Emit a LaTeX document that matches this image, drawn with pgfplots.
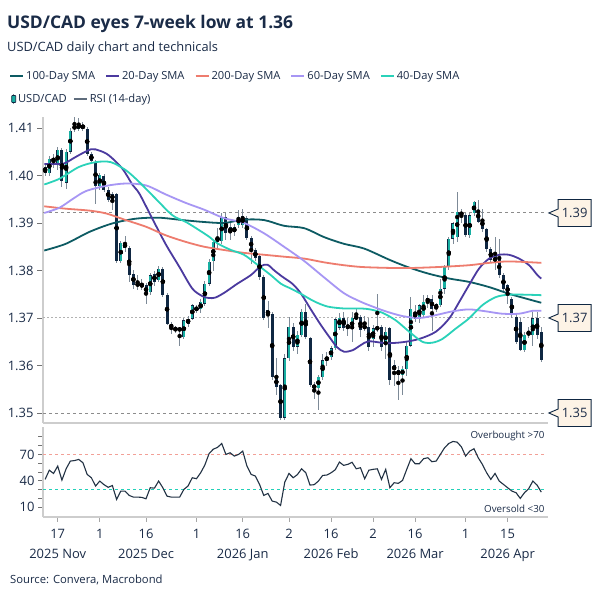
\documentclass[border=0pt]{standalone}
\usepackage{pgfplots}
\usepackage{pgfplotstable}
\pgfplotsset{compat=1.18}
\usepackage{fontspec}
\setmainfont{Open Sans}

\definecolor{navy}{HTML}{0F2742}
\definecolor{cteal}{HTML}{18AFA2}
\definecolor{wickc}{HTML}{7D8A97}
\definecolor{smaA}{HTML}{0D5B63}
\definecolor{smaB}{HTML}{4B3A9F}
\definecolor{smaC}{HTML}{EE7C6E}
\definecolor{smaD}{HTML}{A796F4}
\definecolor{smaE}{HTML}{2AD2B9}
\definecolor{txt}{HTML}{1A2B47}
\definecolor{axg}{HTML}{CDCDCD}
\definecolor{boxf}{HTML}{FDF3E6}
\definecolor{rsic}{HTML}{223244}
\definecolor{rsileg}{HTML}{5E6C7C}
\definecolor{obc}{HTML}{F2A097}
\definecolor{osc}{HTML}{22D0B8}

\pgfplotstableread{
i o h l c
-3 1.4018 1.4022 1.3998 1.4006
-2 1.4005 1.4040 1.3998 1.4035
-1 1.4030 1.4045 1.4015 1.4036
0 1.4021 1.4060 1.4012 1.4054
1 1.4054 1.4058 1.3975 1.3988
2 1.3985 1.4056 1.3972 1.4050
3 1.4050 1.4100 1.4045 1.4094
4 1.4098 1.4124 1.4092 1.4104
5 1.4098 1.4120 1.4094 1.4108
6 1.4107 1.4112 1.4093 1.4098
7 1.4098 1.4102 1.4040 1.4045
8 1.4045 1.4050 1.4026 1.4030
9 1.4026 1.4032 1.3939 1.3977
10 1.3977 1.4005 1.3970 1.4001
11 1.3998 1.4004 1.3965 1.3970
12 1.3970 1.3975 1.3945 1.3949
13 1.3960 1.3965 1.3928 1.3949
14 1.3960 1.3963 1.3815 1.3819
15 1.3819 1.3862 1.3815 1.3858
16 1.3858 1.3872 1.3840 1.3847
17 1.3847 1.3852 1.3775 1.3790
18 1.3793 1.3800 1.3762 1.3770
19 1.3772 1.3790 1.3760 1.3769
20 1.3770 1.3782 1.3758 1.3767
21 1.3769 1.3773 1.3730 1.3751
22 1.3755 1.3795 1.3748 1.3790
23 1.3793 1.3800 1.3768 1.3776
24 1.3779 1.3810 1.3775 1.3804
25 1.3804 1.3808 1.3745 1.3749
26 1.3749 1.3752 1.3685 1.3688
27 1.3688 1.3692 1.3666 1.3678
28 1.3680 1.3684 1.3668 1.3674
29 1.3679 1.3682 1.3642 1.3673
30 1.3660 1.3700 1.3655 1.3695
31 1.3688 1.3705 1.3680 1.3699
32 1.3699 1.3730 1.3695 1.3727
33 1.3723 1.3728 1.3710 1.3716
34 1.3718 1.3740 1.3710 1.3734
35 1.3730 1.3778 1.3725 1.3772
36 1.3772 1.3825 1.3768 1.3818
37 1.3819 1.3865 1.3800 1.3861
38 1.3861 1.3890 1.3845 1.3870
39 1.3862 1.3920 1.3855 1.3913
40 1.3913 1.3920 1.3865 1.3878
41 1.3892 1.3900 1.3865 1.3878
42 1.3880 1.3898 1.3872 1.3892
43 1.3895 1.3927 1.3890 1.3913
44 1.3896 1.3929 1.3890 1.3914
45 1.3910 1.3915 1.3865 1.3868
46 1.3868 1.3872 1.3814 1.3843
47 1.3843 1.3848 1.3820 1.3826
48 1.3830 1.3835 1.3780 1.3787
49 1.3787 1.3790 1.3695 1.3699
50 1.3717 1.3735 1.3680 1.3706
51 1.3709 1.3712 1.3570 1.3576
52 1.3576 1.3615 1.3537 1.3555
53 1.3559 1.3562 1.3485 1.3490
54 1.3490 1.3625 1.3486 1.3615
55 1.3615 1.3702 1.3610 1.3682
56 1.3682 1.3690 1.3630 1.3640
57 1.3640 1.3672 1.3625 1.3664
58 1.3664 1.3720 1.3660 1.3713
59 1.3713 1.3730 1.3655 1.3661
60 1.3657 1.3660 1.3555 1.3559
61 1.3559 1.3565 1.3530 1.3552
62 1.3552 1.3580 1.3506 1.3576
63 1.3576 1.3625 1.3570 1.3611
64 1.3611 1.3628 1.3600 1.3618
65 1.3618 1.3640 1.3612 1.3636
66 1.3636 1.3700 1.3632 1.3697
67 1.3680 1.3710 1.3675 1.3700
68 1.3700 1.3713 1.3672 1.3678
69 1.3685 1.3700 1.3662 1.3679
70 1.3676 1.3712 1.3649 1.3700
71 1.3700 1.3720 1.3695 1.3702
72 1.3702 1.3706 1.3660 1.3674
73 1.3680 1.3705 1.3672 1.3682
74 1.3682 1.3700 1.3630 1.3639
75 1.3656 1.3685 1.3640 1.3678
76 1.3680 1.3751 1.3670 1.3677
77 1.3681 1.3685 1.3630 1.3639
78 1.3646 1.3680 1.3614 1.3671
79 1.3678 1.3681 1.3560 1.3569
80 1.3600 1.3611 1.3558 1.3590
81 1.3590 1.3600 1.3527 1.3580
82 1.3579 1.3600 1.3537 1.3593
83 1.3593 1.3649 1.3579 1.3642
84 1.3642 1.3744 1.3639 1.3719
85 1.3713 1.3727 1.3692 1.3699
86 1.3699 1.3730 1.3690 1.3727
87 1.3706 1.3748 1.3700 1.3734
88 1.3734 1.3748 1.3720 1.3741
89 1.3739 1.3748 1.3672 1.3720
90 1.3720 1.3731 1.3713 1.3729
91 1.3727 1.3783 1.3723 1.3762
92 1.3762 1.3811 1.3751 1.3808
93 1.3808 1.3870 1.3800 1.3867
94 1.3867 1.3902 1.3856 1.3899
95 1.3870 1.3965 1.3860 1.3923
96 1.3923 1.3930 1.3900 1.3916
97 1.3916 1.3920 1.3870 1.3874
98 1.3874 1.3920 1.3869 1.3916
99 1.3920 1.3947 1.3915 1.3944
100 1.3927 1.3948 1.3900 1.3902
101 1.3909 1.3930 1.3880 1.3888
102 1.3888 1.3890 1.3840 1.3846
103 1.3846 1.3850 1.3815 1.3821
104 1.3815 1.3870 1.3800 1.3832
105 1.3825 1.3867 1.3785 1.3790
106 1.3790 1.3795 1.3755 1.3762
107 1.3769 1.3772 1.3730 1.3751
108 1.3741 1.3745 1.3700 1.3706
109 1.3703 1.3710 1.3645 1.3650
110 1.3692 1.3700 1.3630 1.3633
111 1.3633 1.3670 1.3628 1.3664
112 1.3664 1.3680 1.3658 1.3671
113 1.3664 1.3713 1.3640 1.3699
114 1.3699 1.3713 1.3655 1.3664
115 1.3671 1.3680 1.3607 1.3612
}\candles

\pgfplotstableread{
i r
-3 41.5
-2 52
-1 48.3
0 56.7
1 40.7
2 53.6
3 62.4
4 63
5 64.3
6 60.5
7 47.2
8 43.4
9 33.9
10 39.6
11 35.5
12 32.5
13 34.5
14 18.7
15 28.2
16 28.2
17 23.2
18 21.3
19 21.3
20 21.0
21 19.4
22 32
23 31.5
24 39.6
25 32
26 22.4
27 21.3
28 21.3
29 21.3
30 30.1
31 34
32 43.4
33 42.3
34 49.1
35 58
36 71
37 76
38 78
39 82.5
40 70
41 71.9
42 68.1
43 70
44 73.8
45 56.7
46 47.2
47 45.3
48 35.8
49 23.2
50 25.5
51 16.8
52 15.6
53 11.8
54 38.4
55 48.3
56 43.4
57 47
58 53.6
59 49.1
60 35
61 35.5
62 39.6
63 46
64 46.5
65 49
66 52.5
67 61.3
68 57.5
69 58.7
70 61
71 53.6
72 54.8
73 42.3
74 52
75 53
76 53.6
77 41.5
78 52.9
79 32
80 37.7
81 37
82 40.3
83 52.9
84 65.1
85 59.4
86 59.4
87 65.1
88 66.2
89 61.7
90 62.4
91 70
92 77.6
93 82.5
94 84.8
95 84
96 78.7
97 68.1
98 73.8
99 76.5
100 66.2
101 58.6
102 49.1
103 41.5
104 48.3
105 39.6
106 35.8
107 32
108 28.2
109 26.3
110 19.8
111 26.3
112 30.9
113 39.6
114 35
115 27
}\rsi

\begin{document}
\begin{tikzpicture}[x=1bp,y=1bp]
\useasboundingbox (0,0) rectangle (601,601);
\fill[white] (0,0) rectangle (601,601);

\node[anchor=base west, inner sep=0, text=txt, font=\bfseries\fontsize{17.5}{20}\selectfont] at (7,572.7) {USD/CAD eyes 7-week low at 1.36};
\node[anchor=base west, inner sep=0, text=txt, font=\fontsize{12.9}{15}\selectfont] at (7,549.5) {USD/CAD daily chart and technicals};
\node[anchor=base west, inner sep=0, text=txt, font=\fontsize{11.3}{13}\selectfont] at (10,17) {Source: Convera, Macrobond};

% ---------- main price panel ----------
\begin{axis}[
  at={(43bp,178bp)}, anchor=south west,
  width=505bp, height=306bp, scale only axis,
  xmin=-3.5, xmax=116.6, ymin=1.3479, ymax=1.4123,
  axis x line*=bottom, axis y line*=left,
  axis line style={axg, line width=1.6bp, -},
  xtick=\empty,
  ytick={1.35,1.36,1.37,1.38,1.39,1.40,1.41},
  yticklabels={1.35,1.36,1.37,1.38,1.39,1.40,1.41},
  yticklabel style={font=\fontsize{13}{15}\selectfont, text=txt},
  ytick style={draw=black!55, line width=0.8bp},
  tick align=outside, major tick length=6bp,
  clip=false,
  legend columns=5,
  legend style={at={(-0.0673,1.134)}, anchor=west, draw=none, fill=none, inner sep=0pt,
    font=\fontsize{11.2}{13}\selectfont, text=txt,
    nodes={inner xsep=2bp, inner ysep=1bp},
    /tikz/every even column/.append style={column sep=8bp}},
  legend image code/.code={\draw[#1, line width=2bp] (0bp,0bp) -- (13bp,0bp);},
]
% reference levels
\addplot[forget plot, black!45, line width=1bp, dash pattern=on 3bp off 3bp] coordinates {(-3.5,1.3921) (116.3,1.3921)};
\addplot[forget plot, black!30, line width=1bp, dash pattern=on 1.5bp off 2.5bp] coordinates {(-3.5,1.37) (116.3,1.37)};
\addplot[forget plot, black!45, line width=1bp, dash pattern=on 3bp off 3bp] coordinates {(-3.5,1.35) (116.3,1.35)};

% wicks
\addplot[forget plot, only marks, mark=none,
  error bars/.cd, y dir=both, y explicit, error mark=none,
  error bar style={wickc, line width=0.9bp}]
  table[x=i, y expr={(\thisrow{h}+\thisrow{l})/2}, y error expr={(\thisrow{h}-\thisrow{l})/2}] {\candles};
% bodies (outline / bearish)
\addplot[forget plot, only marks, mark=none,
  error bars/.cd, y dir=both, y explicit, error mark=none,
  error bar style={navy, line width=3bp}]
  table[x=i, y expr={(\thisrow{o}+\thisrow{c})/2}, y error expr={max(abs(\thisrow{o}-\thisrow{c})/2,0.00012)}] {\candles};
% bullish fill
\addplot[forget plot, only marks, mark=none,
  error bars/.cd, y dir=both, y explicit, error mark=none,
  error bar style={cteal, line width=2.2bp}]
  table[x=i, y expr={(\thisrow{o}+\thisrow{c})/2}, y error expr={max((\thisrow{c}-\thisrow{o})/2-0.00007,0)}] {\candles};

% moving averages
\addplot[smaA, line width=1.8bp, smooth] coordinates {(-3.2,1.3842) (1.9,1.3856) (7.5,1.3881) (13,1.3899) (18.6,1.3909) (24.1,1.3911) (29.7,1.3906) (34.8,1.3902) (39.6,1.3900) (44.3,1.3907) (49.1,1.3906) (53.8,1.3894) (58.6,1.3889) (63.4,1.3870) (68.1,1.3856) (72.9,1.3846) (79,1.3822) (83.6,1.3806) (88.3,1.3793) (93.1,1.3783) (97.8,1.3776) (102.6,1.3765) (107.3,1.3751) (111.3,1.3741) (115,1.3732)};
\addlegendentry{100-Day SMA}
\addplot[smaB, line width=1.8bp, smooth] coordinates {(-3.2,1.4024) (-0.7,1.4024) (1.5,1.4025) (4.5,1.4040) (7.9,1.4055) (10,1.4052) (12.2,1.4042) (15.4,1.4014) (17.8,1.3980) (19.4,1.3962) (22.5,1.3909) (25.7,1.3855) (28.9,1.3808) (32,1.3762) (34.4,1.3746) (36,1.3742) (37.5,1.3743) (39.6,1.3753) (42.7,1.3772) (45.9,1.3790) (48.3,1.3809) (49.9,1.3812) (51.5,1.3800) (53.4,1.3787) (55.8,1.3772) (57.8,1.3752) (60.2,1.3718) (62.6,1.3685) (65,1.3655) (66.5,1.3638) (68.1,1.3629) (70.1,1.3632) (72.1,1.3643) (74,1.3651) (78,1.3647) (82,1.3649) (86,1.3656) (89.9,1.3671) (93.1,1.3699) (95.5,1.3734) (97.8,1.3769) (100.2,1.3804) (102.6,1.3825) (105,1.3833) (107.3,1.3833) (109.7,1.3825) (112.1,1.3811) (114.1,1.3790) (115,1.3783)};
\addlegendentry{20-Day SMA}
\addplot[smaC, line width=1.8bp, smooth] coordinates {(-3.2,1.3935) (1.9,1.3930) (7.5,1.3926) (11.5,1.3920) (16.2,1.3906) (21,1.3892) (25.7,1.3874) (30.5,1.3860) (34.8,1.3850) (39.6,1.3843) (44.3,1.3837) (49.1,1.3833) (53.8,1.3829) (58.6,1.3825) (63.4,1.3817) (68.1,1.3811) (72.9,1.3807) (82,1.3805) (89.9,1.3807) (97.8,1.3811) (102.6,1.3816) (107.3,1.3819) (115,1.3816)};
\addlegendentry{200-Day SMA}
\addplot[smaD, line width=1.8bp, smooth] coordinates {(-3.2,1.3921) (0.4,1.3932) (3.5,1.3950) (6.7,1.3967) (11.5,1.3978) (16.2,1.3983) (21,1.3979) (25.7,1.3960) (30.5,1.3942) (34.8,1.3928) (39.6,1.3910) (44.3,1.3900) (49.1,1.3878) (53.8,1.3850) (58.6,1.3820) (63.4,1.3785) (68.1,1.3752) (72.1,1.3734) (75.2,1.3723) (78,1.3714) (82,1.3704) (86,1.3700) (89.9,1.3706) (93.9,1.3714) (97.8,1.3718) (101.8,1.3714) (105.7,1.3709) (109.7,1.3709) (112.9,1.3715) (115,1.3715)};
\addlegendentry{60-Day SMA}
\addplot[smaE, line width=1.8bp, smooth] coordinates {(-3.2,1.3981) (0.4,1.3993) (5.1,1.4018) (9.1,1.4028) (12.6,1.4028) (16.2,1.4011) (19.4,1.3986) (23.3,1.3951) (27.3,1.3916) (30.5,1.3902) (33.6,1.3885) (36,1.3871) (38,1.3857) (41.2,1.3843) (44.3,1.3833) (47.5,1.3812) (50.7,1.3790) (53.1,1.3772) (55.4,1.3762) (57.8,1.3751) (61,1.3735) (64.2,1.3724) (68.1,1.3720) (72.1,1.3720) (74.3,1.3718) (77.2,1.3711) (80.4,1.3695) (83.6,1.3671) (86.7,1.3650) (89.1,1.3648) (91.5,1.3656) (94.7,1.3678) (97.8,1.3699) (101,1.3727) (104.2,1.3744) (107.3,1.3749) (111.3,1.3749) (115,1.3748)};
\addlegendentry{40-Day SMA}

% callouts
\draw[navy, line width=0.9bp, fill=boxf, line join=miter]
  (axis cs:116.8,1.3921) -- ++(9.3bp,4bp) -- ++(0bp,9.5bp) -- ++(33bp,0bp) -- ++(0bp,-27bp) -- ++(-33bp,0bp) -- ++(0bp,9.5bp) -- cycle;
\node[text=txt, font=\fontsize{13}{15}\selectfont, inner sep=0] at ([xshift=25.8bp]axis cs:116.8,1.3921) {1.39};
\draw[navy, line width=0.9bp, fill=boxf, line join=miter]
  (axis cs:116.8,1.37) -- ++(9.3bp,4bp) -- ++(0bp,9.5bp) -- ++(33bp,0bp) -- ++(0bp,-27bp) -- ++(-33bp,0bp) -- ++(0bp,9.5bp) -- cycle;
\node[text=txt, font=\fontsize{13}{15}\selectfont, inner sep=0] at ([xshift=25.8bp]axis cs:116.8,1.37) {1.37};
\draw[navy, line width=0.9bp, fill=boxf, line join=miter]
  (axis cs:116.8,1.35) -- ++(9.3bp,4bp) -- ++(0bp,9.5bp) -- ++(33bp,0bp) -- ++(0bp,-27bp) -- ++(-33bp,0bp) -- ++(0bp,9.5bp) -- cycle;
\node[text=txt, font=\fontsize{13}{15}\selectfont, inner sep=0] at ([xshift=25.8bp]axis cs:116.8,1.35) {1.35};
\end{axis}

% ---------- RSI panel ----------
\begin{axis}[
  at={(43bp,84bp)}, anchor=south west,
  width=505bp, height=90bp, scale only axis,
  xmin=-3.5, xmax=116.6, ymin=-1.4, ymax=101.3,
  axis x line*=bottom, axis y line*=left,
  axis line style={axg, line width=1.6bp, -},
  xtick={0,10,21,33,44,55,65,75,85,97,107},
  xticklabels={{17\\2025 Nov},1,{16\\2025 Dec},1,{16\\2026 Jan},2,{16\\2026 Feb},2,{16\\2026 Mar},1,{15\\2026 Apr}},
  xticklabel style={align=center, font=\fontsize{13}{20}\selectfont, text=txt, anchor=north, yshift=-4bp},
  ytick={10,20,30,40,50,60,70,80,90},
  yticklabels={10,,,40,,,70,,},
  yticklabel style={font=\fontsize{13}{15}\selectfont, text=txt},
  ytick style={draw=black!55, line width=0.8bp},
  xtick style={draw=black!35, line width=0.8bp},
  tick align=outside, major tick length=5bp,
  clip=false,
  legend columns=2,
  legend style={at={(-0.063,4.644)}, anchor=west, draw=none, fill=none, inner sep=0pt,
    font=\fontsize{11.2}{13}\selectfont, text=txt,
    nodes={inner xsep=2bp, inner ysep=1bp},
    /tikz/every even column/.append style={column sep=4bp}},
  legend image code/.code={\draw[#1, line width=2bp] (0bp,0bp) -- (13bp,0bp);},
]
\addplot[forget plot, obc, line width=1.3bp, dash pattern=on 3bp off 3bp] coordinates {(-3.5,70) (115.8,70)};
\addplot[forget plot, osc, line width=1.4bp, dash pattern=on 3bp off 3bp] coordinates {(-3.5,30) (115.8,30)};
\addlegendimage{legend image code/.code={\draw[wickc, line width=0.9bp] (3bp,-5bp) -- (3bp,5bp); \filldraw[fill=cteal, draw=navy, line width=0.7bp, rounded corners=0.6bp] (1bp,-3.5bp) rectangle (5bp,3.5bp);}}
\addlegendentry{USD/CAD}
\addplot[rsic, line width=1.1bp, legend image code/.code={\draw[rsileg, line width=2bp] (0bp,0bp) -- (13bp,0bp);}] table[x=i, y=r] {\rsi};
\addlegendentry{RSI (14-day)}
\node[anchor=east, text=txt, font=\fontsize{9.8}{12}\selectfont, inner sep=0] at (axis cs:115.8,90.5) {Overbought >70};
\node[anchor=east, text=txt, font=\fontsize{9.8}{12}\selectfont, inner sep=0] at (axis cs:115.8,8.4) {Oversold <30};
\end{axis}
\end{tikzpicture}
\end{document}
